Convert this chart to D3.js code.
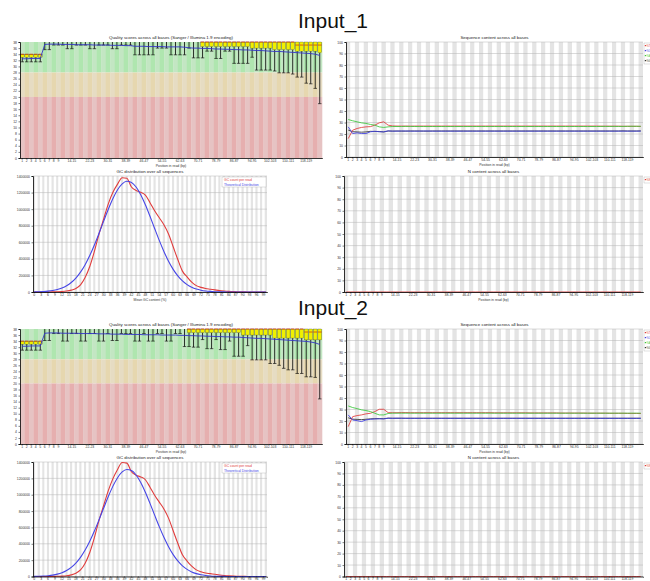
<!DOCTYPE html>
<html>
<head>
<meta charset="utf-8">
<script src="https://cdn.jsdelivr.net/npm/d3@7"></script>
<style>
  body { margin: 0; background: #fff; }
  svg { display: block; }
  text { font-family: "Liberation Sans", Arial, sans-serif; }
</style>
</head>
<body>
<svg id="fig" width="650" height="581"></svg>
<script>
// ---- categories -------------------------------------------------------
var positions = ("1 2 3 4 5 6 7 8 9 10-11 12-13 14-15 16-17 18-19 20-21 22-23 24-25 26-27 28-29 " +
  "30-31 32-33 34-35 36-37 38-39 40-41 42-43 44-45 46-47 48-49 50-51 52-53 54-55 56-57 58-59 " +
  "60-61 62-63 64-65 66-67 68-69 70-71 72-73 74-75 76-77 78-79 80-81 82-83 84-85 86-87 88-89 " +
  "90-91 92-93 94-95 96-97 98-99 100-101 102-103 104-105 106-107 108-109 110-111 112-113 " +
  "114-115 116-117 118-119 120-121 122-123 124-125").split(" ");
var posTicks = ["1","2","3","4","5","6","7","8","9","14-15","22-23","30-31","38-39","46-47","54-55",
  "62-63","70-71","78-79","86-87","94-95","102-103","110-111","118-119"];
var qualTicks = [0,2,4,6,8,10,12,14,16,18,20,22,24,26,28,30,32,34,36,38];
var pctTicks = [0,10,20,30,40,50,60,70,80,90,100];
var gcPct = [0,2,4,6,8,10,12,14,16,18,20,22,24,26,28,30,32,34,36,38,40,42,44,46,48,50,
  52,54,56,58,60,62,64,66,68,70,72,74,76,78,80,82,84,86,88,90,92,94,96,98,100];
var gcTicks = [0,3,6,9,12,15,18,21,24,27,30,33,36,39,42,45,48,51,54,57,60,63,66,69,72,75,
  78,81,84,87,90,93,96,99];
var gcCountTicks = [0,200000,400000,600000,800000,1000000,1200000,1400000];

// ---- Input_1 : per base quality ----------------------------------------
var q1Mean = [32.5,32.5,32.6,32.6,32.6, 37.2,37.3,37.3,37.3,37.2, 37.2,37.2,37.1,37.1,37.1,
  37.1,37.0,37.0,37.0,37.0, 36.9,36.9,36.9,36.8,36.8, 36.6,36.6,36.6,36.5,36.5,
  36.5,36.5,36.4,36.4,36.4, 36.4,36.3,36.1,36.0,36.0, 35.9,35.9,35.8,35.7,35.7,
  35.6,35.6,35.5,35.5,35.4, 35.4,35.3,35.2,35.2,35.1, 35.0,34.9,34.9,34.8,34.7,
  34.6,34.5,34.4,34.3,34.2, 34.0,33.6];
var q1Median = [34,34,34,34,34, 38,38,38,38,38, 38,38,38,38,38, 38,38,38,38,38, 38,38,38,38,38,
  38,38,38,38,38, 38,38,38,38,38, 38,38,38,38,38, 38,38,38,38,38, 38,38,38,38,38,
  38,38,38,38,38, 38,38,38,38,38, 38,37,37,37,37, 37,37];
var q1Upper = [34,34,34,34,34, 38,38,38,38,38, 38,38,38,38,38, 38,38,38,38,38, 38,38,38,38,38,
  38,38,38,38,38, 38,38,38,38,38, 38,38,38,38,38, 38,38,38,38,38, 38,38,38,38,38,
  38,38,38,38,38, 38,38,38,38,38, 38,38,38,38,38, 38,38];
var q1Lower = [33,33,33,33,33, 38,38,38,38,38, 38,38,38,38,38, 38,38,38,38,38, 38,38,38,38,38,
  38,38,38,38,38, 38,38,38,38,38, 38,38,38,38,38, 36.5,36.5,36.5,36.5,36.5, 36.5,36.5,36.5,36.5,36.5,
  36.5,36,36,36,36, 36,35.5,35.5,35.5,35.5, 35.5,35,35,35,35, 35,34.5];
var q1P10 = [31.5,31.5,31.5,31.5,31.5, 35.5,35.5,37,37,37, 35.8,35.8,37,37,37, 35.8,35.8,37,37,37,
  35.8,35.8,37,37,37, 33.8,33.8,33.8,33.8,33.8, 36,36,36,33.8,33.8, 33.8,33.8,36,32.8,32.8,
  32.8,35,35,32.6,32.6, 35,35,31,31,31, 31,33,28.8,28.8,28.8, 28.8,28.5,27.9,27.9,27.9,
  27.5,26.5,26.5,24.5,24.3, 22.8,17.8];
var q1P90 = [34,34,34,34,34, 38,38,38,38,38, 38,38,38,38,38, 38,38,38,38,38, 38,38,38,38,38,
  38,38,38,38,38, 38,38,38,38,38, 38,38,38,38,38, 38,38,38,38,38, 38,38,38,38,38,
  38,38,38,38,38, 38,38,38,38,38, 38,38,38,38,38, 38,38];

// ---- Input_2 : per base quality ----------------------------------------
var q2Mean = [32.3,32.3,32.4,32.4,32.4, 36.6,36.7,36.7,36.7,36.6, 36.6,36.6,36.6,36.5,36.5,
  36.5,36.5,36.4,36.4,36.4, 36.3,36.3,36.3,36.2,36.2, 36.2,36.2,36.1,36.1,36.1,
  36.1,36.0,36.0,36.0,36.0, 35.9,35.9,35.8,35.8,35.7, 35.7,35.6,35.6,35.5,35.5,
  35.4,35.4,35.3,35.3,35.2, 35.1,35.0,34.9,34.9,34.8, 34.7,34.6,34.5,34.4,34.3,
  34.2,34.1,34.0,33.9,33.7, 33.4,32.9];
var q2Median = [34,34,34,34,34, 38,38,38,38,38, 38,38,38,38,38, 38,38,38,38,38, 38,38,38,38,38,
  38,38,38,38,38, 38,38,38,38,38, 38,38,38,38,38, 38,38,38,38,38, 38,38,38,38,38,
  38,38,38,38,38, 38,38,38,38,38, 38,38,38,37,37, 37,37];
var q2Upper = [34,34,34,34,34, 38,38,38,38,38, 38,38,38,38,38, 38,38,38,38,38, 38,38,38,38,38,
  38,38,38,38,38, 38,38,38,38,38, 38,38,38,38,38, 38,38,38,38,38, 38,38,38,38,38,
  38,38,38,38,38, 38,38,38,38,38, 38,38,38,38,38, 38,38];
var q2Lower = [33,33,33,33,33, 38,38,38,38,38, 38,38,38,38,38, 38,38,38,38,38, 38,38,38,38,38,
  38,38,38,38,38, 38,38,38,38,38, 38,38,36.8,36.8,36.8, 36.8,36.8,36.8,36.8,36.8,
  36.8,36.8,36.8,36.8,36, 36,36,36,36,36, 36,35,35,35,35, 35,35,35,34.4,34.4, 34.4,34.4];
var q2P10 = [31,31,31,31,31, 34.2,34.2,36.5,36.5,34.0, 34.0,36.5,36.5,34.0,34.0,
  36.5,36.5,34.0,34.0,36.5, 34.2,34.2,36.5,36.5,36.5, 34.0,34.0,36.5,34.0,34.0,
  36.5,36.5,34.0,34.0,36.5, 36.5,32.2,32.2,32.0,32.0, 34.5,31.5,31.5,34.5,31.2,
  31.2,34.0,29.0,29.0,29.0, 32.5,27.8,27.8,27.8,27.8, 26.6,26.6,26.0,25.0,24.5,
  24.5,23.3,23.3,22.2,22.2, 22.0,14.9];
var q2P90 = q2Upper;

// ---- per base sequence content (%T red, %C blue, %A green, %G black) ----
var t1 = [16.0,23.3,24.8,25.7,26.2,26.4,27.7,29.7,30.6,27.7,
  27.0,26.9,26.9,26.9,26.8,26.9,26.9,26.9,26.9,26.9, 26.9,26.9,26.9,26.9,26.9,26.9,26.9,26.9,26.9,26.9,
  26.9,26.9,26.9,26.9,26.9,26.9,26.9,26.9,26.9,26.9, 26.9,26.9,26.9,26.9,26.9,26.9,26.9,26.9,26.9,26.9,
  26.9,26.9,26.9,26.9,26.9,26.9,26.9,26.8,26.8,26.8, 26.8,26.8,26.7,26.7,26.7,26.7,26.6];
var c1 = [26.2,20.4,21.0,20.4,20.4,21.9,22.4,21.9,21.9,22.7,
  22.5,22.5,22.6,22.6,22.5,22.5,22.5,22.6,22.6,22.5, 22.5,22.5,22.5,22.5,22.5,22.5,22.5,22.5,22.5,22.5,
  22.5,22.5,22.5,22.5,22.5,22.5,22.5,22.5,22.5,22.5, 22.5,22.5,22.5,22.5,22.5,22.5,22.5,22.5,22.5,22.5,
  22.5,22.5,22.5,22.5,22.5,22.5,22.5,22.5,22.5,22.5, 22.5,22.5,22.5,22.5,22.5,22.5,22.5];
var a1 = [32.6,31.5,30.6,29.7,29.2,28.3,27.7,26.2,25.7,26.2,
  26.5,26.5,26.5,26.6,26.6,26.5,26.5,26.5,26.5,26.5, 26.5,26.5,26.5,26.5,26.5,26.5,26.5,26.5,26.5,26.5,
  26.5,26.5,26.5,26.5,26.5,26.5,26.5,26.5,26.5,26.5, 26.5,26.5,26.5,26.5,26.5,26.5,26.5,26.5,26.5,26.5,
  26.5,26.5,26.5,26.5,26.5,26.5,26.5,26.6,26.6,26.6, 26.6,26.6,26.6,26.7,26.7,26.7,26.7];
var g1 = [23.4,22.0,21.8,21.6,21.8,22.3,22.2,22.2,21.8,22.6,
  22.5,22.6,22.5,22.5,22.6,22.6,22.6,22.5,22.5,22.6, 22.6,22.6,22.6,22.6,22.6,22.6,22.6,22.6,22.6,22.6,
  22.6,22.6,22.6,22.6,22.6,22.6,22.6,22.6,22.6,22.6, 22.6,22.6,22.6,22.6,22.6,22.6,22.6,22.6,22.6,22.6,
  22.6,22.6,22.6,22.6,22.6,22.6,22.6,22.6,22.6,22.6, 22.6,22.6,22.7,22.6,22.6,22.6,22.7];

var t2 = [15.1,23.8,24.7,25.3,26.2,26.7,28.2,30.2,30.2,27.3,
  27.2,27.2,27.3,27.3,27.2,27.2,27.2,27.2,27.2,27.2, 27.2,27.2,27.2,27.2,27.2,27.2,27.2,27.2,27.2,27.2,
  27.2,27.2,27.2,27.1,27.1,27.1,27.1,27.1,27.1,27.1, 27.1,27.0,27.0,27.0,27.0,27.0,27.0,27.0,26.9,26.9,
  26.9,26.9,26.9,26.9,26.8,26.8,26.8,26.8,26.8,26.7, 26.7,26.7,26.7,26.6,26.6,26.6,26.5];
var c2 = [25.3,20.9,20.3,19.5,20.9,21.5,21.8,21.9,21.8,22.4,
  22.3,22.4,22.4,22.3,22.3,22.3,22.3,22.3,22.3,22.3, 22.3,22.3,22.3,22.3,22.3,22.3,22.3,22.3,22.3,22.3,
  22.3,22.3,22.3,22.3,22.3,22.3,22.3,22.3,22.3,22.3, 22.3,22.3,22.3,22.3,22.3,22.3,22.3,22.3,22.3,22.3,
  22.3,22.3,22.3,22.3,22.3,22.3,22.3,22.3,22.3,22.3, 22.3,22.3,22.3,22.3,22.3,22.3,22.3];
var a2 = [33.1,31.7,30.8,29.7,29.1,28.2,26.7,25.3,25.3,26.5,
  26.8,26.8,26.8,26.8,26.8,26.8,26.8,26.8,26.8,26.8, 26.8,26.8,26.8,26.8,26.8,26.8,26.8,26.8,26.8,26.8,
  26.8,26.8,26.8,26.8,26.8,26.8,26.8,26.8,26.8,26.8, 26.8,26.8,26.8,26.8,26.8,26.8,26.8,26.8,26.8,26.8,
  26.8,26.8,26.8,26.8,26.8,26.8,26.8,26.8,26.8,26.8, 26.8,26.8,26.8,26.8,26.8,26.8,26.8];
var g2 = [22.8,21.6,21.4,21.2,21.5,21.9,22.0,22.1,22.0,22.5,
  22.4,22.4,22.4,22.4,22.4,22.4,22.4,22.4,22.4,22.4, 22.4,22.4,22.4,22.4,22.4,22.4,22.4,22.4,22.4,22.4,
  22.4,22.4,22.4,22.4,22.4,22.4,22.4,22.4,22.4,22.4, 22.4,22.4,22.4,22.4,22.4,22.4,22.4,22.4,22.4,22.4,
  22.4,22.4,22.4,22.4,22.4,22.4,22.4,22.4,22.4,22.4, 22.4,22.4,22.4,22.4,22.4,22.4,22.4];

// ---- per sequence GC content (read counts) -----------------------------
var gc1Count = [0,0,420,840,1400,2800,5600,11200,22400,42000,86800,175000,308000,490000,700000,
  882000,1064000,1204000,1302000,1379000,1372000,1267000,1225000,1204000,1169000,1078000,
  980000,896000,812000,700000,546000,392000,252000,182000,119000,77000,56000,42000,33600,
  25200,16800,11200,7000,4200,2800,1400,700,0,0,0,0];
var gc1Theory = [1580,3020,5600,10050,17400,29300,47700,75000,114200,168000,239400,330000,
  440000,567400,708200,855000,998800,1128800,1234200,1305600,1336100,1323000,1267300,1174400,
  1053100,913600,766800,622600,489100,371700,273300,194400,133800,89200,57400,35800,21600,
  12600,7100,3880,2050,1050,520,250,110,50,0,0,0,0,0];
var gc2Count = [0,0,420,700,1400,2800,5600,9800,19600,39200,79800,161000,294000,476000,686000,
  868000,1050000,1197000,1309000,1393000,1386000,1281000,1239000,1218000,1183000,1092000,
  994000,910000,826000,714000,560000,406000,266000,189000,126000,81200,58800,43400,35000,
  26600,18200,11900,7700,4900,2800,1400,700,0,0,0,0];
var gc2Theory = [1550,2960,5480,9840,17000,28700,46700,73400,111800,164500,234400,323100,
  430800,555500,693300,837000,977800,1105100,1208300,1278200,1308000,1295200,1240700,1149700,
  1031000,894400,750700,609500,478800,363900,267600,190300,131000,87300,56200,35000,21100,
  12300,6950,3800,2000,1030,510,240,110,50,0,0,0,0,0];

// ---- per base N content --------------------------------------------------
var n1 = [0,0,0,0,0,0,0,0,0,0, 0,0,0,0,0,0,0,0,0,0, 0,0,0,0,0,0,0,0,0,0, 0,0,0,0,0,0,0,0,0,0,
  0,0,0,0,0,0,0,0,0,0, 0,0,0,0,0,0,0,0,0,0, 0,0,0,0,0,0,0];
var n2 = n1.slice();

// ---- drawing -------------------------------------------------------------
var svg = d3.select("#fig");
var H = 581;
var TICK_FONT = 3.4, TITLE_FONT = 4.4;

function axes(g, p, x, y, xTicks, yTicks) {
  var ya = g.append("g").attr("transform", "translate(" + p.x0 + ",0)")
    .call(d3.axisLeft(y).tickValues(yTicks).tickSize(1.5).tickPadding(1.5).tickFormat(d3.format("d")));
  var xa = g.append("g").attr("transform", "translate(0," + p.y1 + ")")
    .call(d3.axisBottom(x).tickValues(xTicks).tickSize(1).tickPadding(0.5));
  [ya, xa].forEach(function(a) {
    a.select(".domain").attr("stroke", "#000").attr("stroke-width", 0.8);
    a.selectAll(".tick line").attr("stroke", "#000").attr("stroke-width", 0.5);
    a.selectAll("text").attr("font-size", TICK_FONT).attr("fill", "#333")
      .attr("font-family", "'Liberation Sans', Arial, sans-serif");
  });
}

function titles(g, p, title, xTitle) {
  g.append("text").attr("x", (p.x0 + p.x1) / 2).attr("y", p.y0 - 3)
    .attr("text-anchor", "middle").attr("font-size", TITLE_FONT).attr("fill", "#222").text(title);
  // the bottom row's axis titles fall below the picture in the reference
  if (p.y1 + 9 < H) {
    g.append("text").attr("x", (p.x0 + p.x1) / 2).attr("y", p.y1 + 8.5)
      .attr("text-anchor", "middle").attr("font-size", TICK_FONT).attr("fill", "#333").text(xTitle);
  }
}

function drawQuality(p, q) {
  var g = svg.append("g");
  var x = d3.scaleBand().domain(positions).range([p.x0, p.x1]);
  var y = d3.scaleLinear().domain([0, 38]).range([p.y1, p.y0]);
  var bw = x.bandwidth();
  var zones = [[28, 38, ["#c3e6c3", "#afe6af"]], [20, 28, ["#e6dcc3", "#e6d7af"]], [0, 20, ["#e6c3c3", "#e6afaf"]]];
  zones.forEach(function(z) {
    g.selectAll(null).data(positions).enter().append("rect")
      .attr("x", function(c) { return x(c); }).attr("width", bw + 0.3)
      .attr("y", y(z[1])).attr("height", y(z[0]) - y(z[1]))
      .attr("fill", function(c, i) { return z[2][i % 2]; });
  });
  var rows = positions.map(function(c, i) {
    return { c: c, mean: q.mean[i], med: q.median[i], lq: q.lower[i], uq: q.upper[i], p10: q.p10[i], p90: q.p90[i] };
  });
  var cx = function(d) { return x(d.c) + bw / 2; };
  // whiskers with a cap at the 10th percentile
  g.selectAll(null).data(rows).enter().append("line")
    .attr("x1", cx).attr("x2", cx)
    .attr("y1", function(d) { return y(d.p10); }).attr("y2", function(d) { return y(d.lq); })
    .attr("stroke", "#000").attr("stroke-width", 0.8);
  g.selectAll(null).data(rows).enter().append("line")
    .attr("x1", cx).attr("x2", cx)
    .attr("y1", function(d) { return y(d.p90); }).attr("y2", function(d) { return y(d.uq); })
    .attr("stroke", "#000").attr("stroke-width", 0.8);
  g.selectAll(null).data(rows.filter(function(d) { return d.p10 < d.lq; })).enter().append("line")
    .attr("x1", function(d) { return x(d.c) + 0.5; }).attr("x2", function(d) { return x(d.c) + bw - 0.5; })
    .attr("y1", function(d) { return y(d.p10); }).attr("y2", function(d) { return y(d.p10); })
    .attr("stroke", "#000").attr("stroke-width", 0.6);
  // inter-quartile boxes (only where they have some height)
  g.selectAll(null).data(rows.filter(function(d) { return d.uq > d.lq; })).enter().append("rect")
    .attr("x", function(d) { return x(d.c) + 0.4; }).attr("width", bw - 0.8)
    .attr("y", function(d) { return y(d.uq); })
    .attr("height", function(d) { return y(d.lq) - y(d.uq); })
    .attr("fill", "#f0f000").attr("stroke", "#333").attr("stroke-width", 0.3);
  // median
  g.selectAll(null).data(rows.filter(function(d) { return d.uq > d.lq; })).enter().append("line")
    .attr("x1", function(d) { return x(d.c) + 0.4; }).attr("x2", function(d) { return x(d.c) + bw - 0.4; })
    .attr("y1", function(d) { return y(d.med); }).attr("y2", function(d) { return y(d.med); })
    .attr("stroke", "#c00").attr("stroke-width", 0.6);
  // mean
  g.append("path").datum(rows)
    .attr("d", d3.line().x(cx).y(function(d) { return y(d.mean); }))
    .attr("fill", "none").attr("stroke", "#3333cc").attr("stroke-width", 0.9);
  axes(g, p, x, y, posTicks, qualTicks);
  titles(g, p, "Quality scores across all bases (Sanger / Illumina 1.9 encoding)", "Position in read (bp)");
}

function stripedPanel(g, p, x, cats) {
  g.append("rect").attr("x", p.x0).attr("y", p.y0).attr("width", p.x1 - p.x0).attr("height", p.y1 - p.y0).attr("fill", "#fff");
  g.selectAll(null).data(cats).enter().append("rect")
    .attr("x", function(c) { return x(c); }).attr("width", x.bandwidth())
    .attr("y", p.y0).attr("height", p.y1 - p.y0)
    .attr("fill", function(c, i) { return i % 2 ? "#ffffff" : "#e4e4e4"; });
}

function hGrid(g, p, y, ticks) {
  g.selectAll(null).data(ticks).enter().append("line")
    .attr("x1", p.x0).attr("x2", p.x1)
    .attr("y1", function(t) { return y(t); }).attr("y2", function(t) { return y(t); })
    .attr("stroke", "#b4b4b4").attr("stroke-width", 0.5);
}

function drawPercentLines(p, series, drawOrder, title) {
  var g = svg.append("g");
  var x = d3.scaleBand().domain(positions).range([p.x0, p.x1]);
  var y = d3.scaleLinear().domain([0, 100]).range([p.y1, p.y0]);
  stripedPanel(g, p, x, positions);
  hGrid(g, p, y, pctTicks);
  drawOrder.forEach(function(k) {
    var s = series[k];
    g.append("path").datum(s.values)
      .attr("d", d3.line().x(function(v, i) { return x(positions[i]) + x.bandwidth() / 2; }).y(function(v) { return y(v); }))
      .attr("fill", "none").attr("stroke", s.color).attr("stroke-width", 1).attr("stroke-opacity", 0.85);
  });
  axes(g, p, x, y, posTicks, pctTicks);
  titles(g, p, title, "Position in read (bp)");
  // legend sits on the right edge, mostly outside the picture as in the reference
  var lg = g.append("g").attr("transform", "translate(" + (p.x1 + 1) + "," + (p.y0 + 1) + ")");
  lg.append("rect").attr("width", 8).attr("height", series.length * 5 + 1)
    .attr("fill", "#fff").attr("stroke", "#999").attr("stroke-width", 0.3);
  series.forEach(function(s, i) {
    lg.append("line").attr("x1", 0.8).attr("x2", 2.2).attr("y1", 2.6 + i * 5).attr("y2", 2.6 + i * 5)
      .attr("stroke", s.color).attr("stroke-width", 1.2);
    lg.append("text").attr("x", 2.5).attr("y", 3.6 + i * 5).attr("font-size", 2.6)
      .attr("fill", s.color).text(s.name);
  });
}

function drawGC(p, count, theory) {
  var g = svg.append("g");
  var gcBins = d3.range(0, 101);
  var xb = d3.scaleBand().domain(gcBins).range([p.x0, p.x1]);
  var x = d3.scaleLinear().domain([0, 100]).range([p.x0 + xb.bandwidth() / 2, p.x1 - xb.bandwidth() / 2]);
  var y = d3.scaleLinear().domain([0, 1400000]).range([p.y1, p.y0]);
  stripedPanel(g, p, xb, gcBins);
  hGrid(g, p, y, gcCountTicks);
  var line = d3.line().curve(d3.curveMonotoneX)
    .x(function(v, i) { return x(gcPct[i]); }).y(function(v) { return y(v); });
  g.append("path").datum(count).attr("d", line)
    .attr("fill", "none").attr("stroke", "#e03c3c").attr("stroke-width", 1.1);
  g.append("path").datum(theory).attr("d", line)
    .attr("fill", "none").attr("stroke", "#4646e6").attr("stroke-width", 1.1);
  axes(g, p, xb, y, gcTicks, gcCountTicks);
  titles(g, p, "GC distribution over all sequences", "Mean GC content (%)");
  var lg = g.append("g").attr("transform", "translate(" + (p.x1 - 45) + "," + (p.y0 + 1) + ")");
  lg.append("rect").attr("width", 44).attr("height", 10)
    .attr("fill", "#fff").attr("stroke", "#999").attr("stroke-width", 0.3);
  lg.append("text").attr("x", 2).attr("y", 4).attr("font-size", TICK_FONT).attr("fill", "#e03c3c").text("GC count per read");
  lg.append("text").attr("x", 2).attr("y", 8.5).attr("font-size", TICK_FONT).attr("fill", "#4646e6").text("Theoretical Distribution");
}

function headline(txt, yBase) {
  svg.append("text").attr("x", 333).attr("y", yBase).attr("text-anchor", "middle")
    .attr("font-size", 21).attr("fill", "#111").text(txt);
}

var baseOrder = [3, 0, 2, 1];   // draw %G first so %C sits on top, as in the reference

headline("Input_1", 28);
drawQuality({ x0: 20, x1: 322, y0: 42, y1: 158 },
  { mean: q1Mean, median: q1Median, upper: q1Upper, lower: q1Lower, p10: q1P10, p90: q1P90 });
drawPercentLines({ x0: 346, x1: 643, y0: 42, y1: 157 },
  [{ name: "%T", color: "#e03c3c", values: t1 }, { name: "%C", color: "#3c3ce0", values: c1 },
   { name: "%A", color: "#3cc83c", values: a1 }, { name: "%G", color: "#333", values: g1 }],
  baseOrder, "Sequence content across all bases");
drawGC({ x0: 33, x1: 267, y0: 176, y1: 292 }, gc1Count, gc1Theory);
drawPercentLines({ x0: 344, x1: 643, y0: 176, y1: 292 },
  [{ name: "%N", color: "#e03c3c", values: n1 }], [0], "N content across all bases");

headline("Input_2", 315);
drawQuality({ x0: 20, x1: 322, y0: 329, y1: 444 },
  { mean: q2Mean, median: q2Median, upper: q2Upper, lower: q2Lower, p10: q2P10, p90: q2P90 });
drawPercentLines({ x0: 346, x1: 643, y0: 329, y1: 444 },
  [{ name: "%T", color: "#e03c3c", values: t2 }, { name: "%C", color: "#3c3ce0", values: c2 },
   { name: "%A", color: "#3cc83c", values: a2 }, { name: "%G", color: "#333", values: g2 }],
  baseOrder, "Sequence content across all bases");
drawGC({ x0: 33, x1: 267, y0: 462, y1: 576.5 }, gc2Count, gc2Theory);
drawPercentLines({ x0: 344, x1: 643, y0: 462, y1: 576.5 },
  [{ name: "%N", color: "#e03c3c", values: n2 }], [0], "N content across all bases");
</script>
</body>
</html>
